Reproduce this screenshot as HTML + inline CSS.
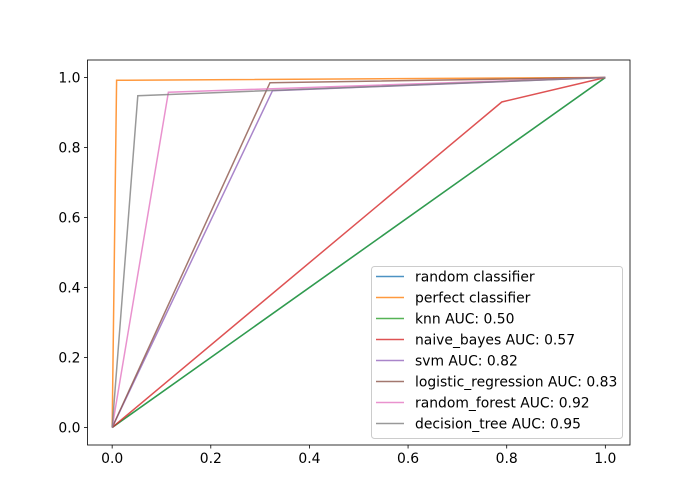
<!DOCTYPE html>
<html><head><meta charset="utf-8"><style>body{margin:0;background:#fff}svg{display:block;font-family:"DejaVu Sans","Liberation Sans",sans-serif}</style></head>
<body>
<svg id="chart" width="700" height="500" viewBox="0 0 700 500" xmlns="http://www.w3.org/2000/svg"></svg>
<script>
const seriesNames=["random classifier","perfect classifier","knn AUC: 0.50","naive_bayes AUC: 0.57","svm AUC: 0.82","logistic_regression AUC: 0.83","random_forest AUC: 0.92","decision_tree AUC: 0.95"];
const seriesX=[[0,1],[0,0.009,1],[0,1],[0,0.79,1],[0,0.325,1],[0,0.32,1],[0,0.114,1],[0,0.052,1]];
const seriesY=[[0,1],[0,0.992,1],[0,1],[0,0.93,1],[0,0.962,1],[0,0.985,1],[0,0.958,1],[0,0.948,1]];
const seriesColors=["#1f77b4","#ff7f0e","#2ca02c","#d62728","#9467bd","#8c564b","#e377c2","#7f7f7f"];
const xTicks=[0,0.2,0.4,0.6,0.8,1.0];
const yTicks=[0,0.2,0.4,0.6,0.8,1.0];
const NS="http://www.w3.org/2000/svg";
const svg=document.getElementById('chart');
const L=87.5,R=630,T=60,B=445,FS='13.9px';
const sx=v=>L+(v+0.05)/1.1*(R-L);
const sy=v=>B-(v+0.05)/1.1*(B-T);
function mk(tag,attrs,parent){const e=document.createElementNS(NS,tag);for(const k in attrs)e.setAttribute(k,attrs[k]);(parent||svg).appendChild(e);return e;}
const frame=mk('rect',{x:L,y:T,width:R-L,height:B-T,fill:'none',stroke:'#000','stroke-width':0.8});


xTicks.forEach(t=>{const g=mk('g',{});


mk('line',{x1:sx(t),x2:sx(t),y1:B,y2:B+3.5,stroke:'#000','stroke-width':0.8},g);
const tx=mk('text',{x:sx(t),y:B+18,'text-anchor':'middle','font-size':FS},g);tx.textContent=t.toFixed(1);});
yTicks.forEach(t=>{const g=mk('g',{});


mk('line',{x1:L-3.5,x2:L,y1:sy(t),y2:sy(t),stroke:'#000','stroke-width':0.8},g);
const tx=mk('text',{x:L-7,y:sy(t)+5,'text-anchor':'end','font-size':FS},g);tx.textContent=t.toFixed(1);});
seriesNames.forEach((n,i)=>{const pts=seriesX[i].map((x,j)=>sx(x)+','+sy(seriesY[i][j])).join(' ');
const p=mk('polyline',{points:pts,fill:'none',stroke:seriesColors[i],'stroke-opacity':0.8,'stroke-width':1.5});

});
const lg=mk('g',{});


mk('rect',{x:371.5,y:266.5,width:251,height:172,rx:3,fill:'#fff','fill-opacity':0.8,stroke:'#ccc'},lg);
seriesNames.forEach((n,i)=>{const y=276.5+i*21;const g=mk('g',{},lg);


mk('line',{x1:376,x2:404,y1:y,y2:y,stroke:seriesColors[i],'stroke-opacity':0.8,'stroke-width':1.5},g);
const t=mk('text',{x:415,y:y+5,'font-size':FS},g);t.textContent=n;});
</script>
</body></html>
